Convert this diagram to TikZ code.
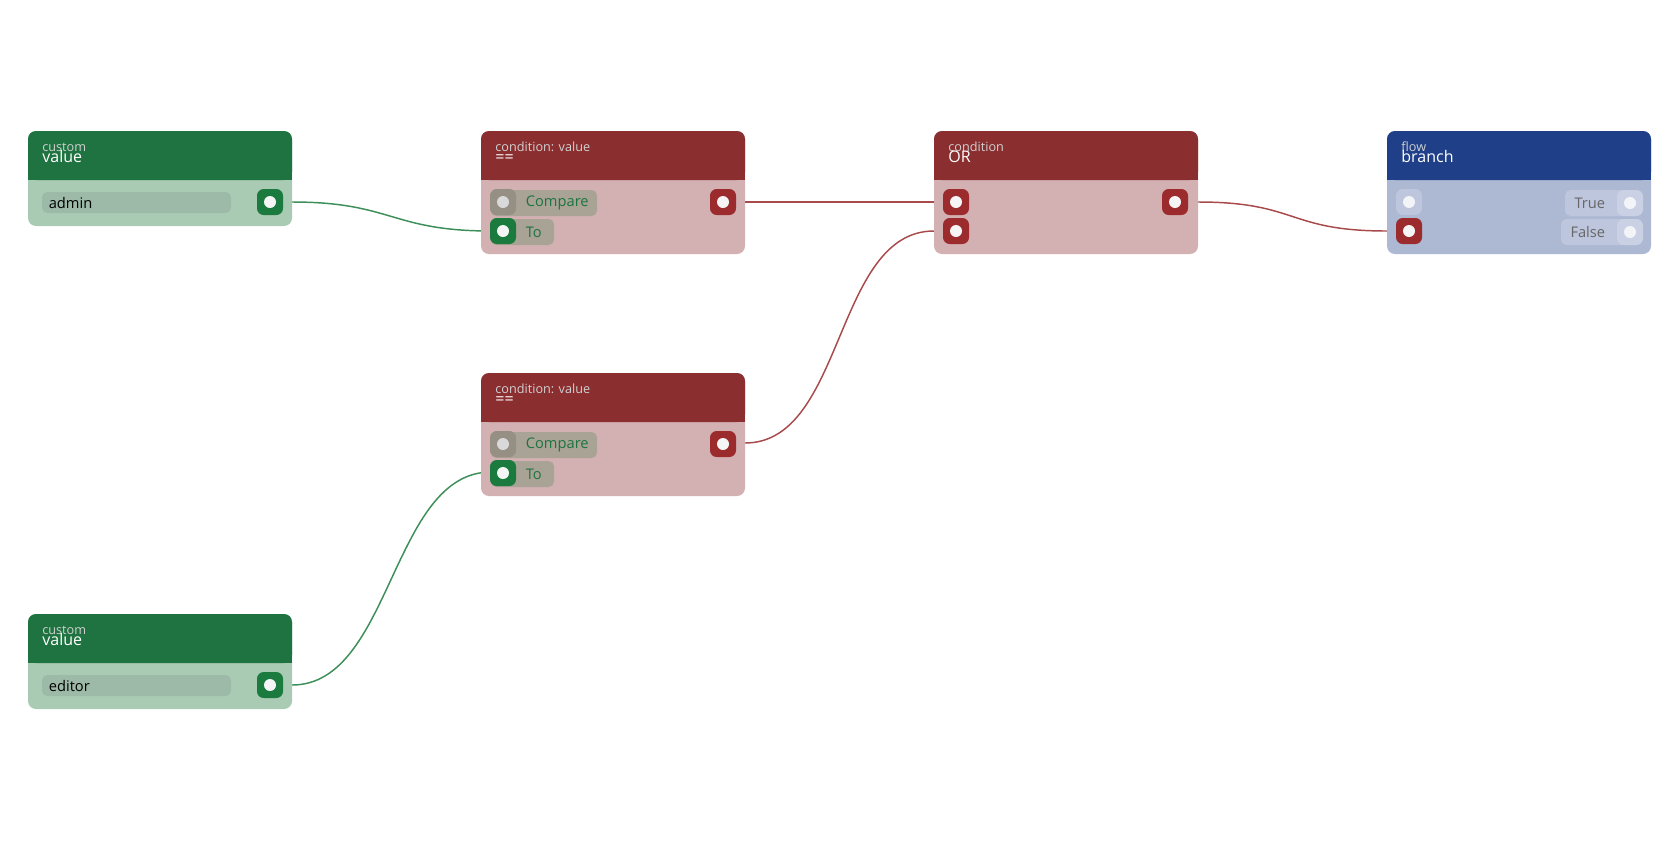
\documentclass[tikz,border=0pt]{standalone}
\usepackage{fontspec}
\setmainfont{Open Sans}
\usetikzlibrary{positioning}
\definecolor{greenhead}{HTML}{1E7340}
\definecolor{greenbody}{HTML}{A9CBB4}
\definecolor{greenport}{HTML}{1B7A3E}
\definecolor{greenfield}{HTML}{9DB9A7}
\definecolor{greenwire}{HTML}{3C8F58}
\definecolor{redhead}{HTML}{8A2E2F}
\definecolor{redbody}{HTML}{D3B1B3}
\definecolor{redport}{HTML}{9B2B2C}
\definecolor{redpill}{HTML}{A9A396}
\definecolor{redwire}{HTML}{A84A4B}
\definecolor{bluehead}{HTML}{1F3F88}
\definecolor{bluebody}{HTML}{ADB8D3}
\definecolor{bluepill}{HTML}{BDC6DD}
\newcommand{\card}[7]{% name, x, y, height, colour, kind, title
  \fill[#5body,rounded corners=6] (#2,#3) rectangle ++(264,#4);
  \fill[#5head,rounded corners=6] (#2,#3) rectangle ++(264,49);
  \fill[#5head] (#2,#3+30) rectangle ++(264,19);
  \node[kind] (#1kind) at (#2+14,#3+20) {#6};
  \node[title] (#1title) at (#2+14,#3+31) {#7};
}
\begin{document}
\begin{tikzpicture}[x=0.75pt,y=-0.75pt,semithick]
  \tikzstyle{kind}=[anchor=base west,inner sep=0,text=white!82!black,font=\fontsize{9.5}{10}\selectfont]
  \tikzstyle{title}=[anchor=base west,inner sep=0,text=white,font=\fontsize{12}{12}\selectfont]
  \tikzstyle{port}=[draw=none,rounded corners=5,minimum size=19.5pt,inner sep=0]
  \tikzstyle{dot}=[circle,fill=white!92!gray,minimum size=9pt,inner sep=0]
  \tikzstyle{lbl}=[font=\fontsize{11}{12}\selectfont]
  \tikzstyle{wire}=[line width=1.1pt]
  \useasboundingbox (0,0) rectangle (1680,840);
  % wires
  \coordinate (AO) at (292,202);
  \coordinate (EO) at (292,685);
  \coordinate (C1T) at (491,231);
  \coordinate (C1O) at (745,202);
  \coordinate (C2T) at (491,472);
  \coordinate (C2O) at (745,443);
  \coordinate (OA) at (934,202);
  \coordinate (OB) at (934,231);
  \coordinate (OO) at (1198,202);
  \coordinate (BF) at (1387,231);
  \draw[wire,greenwire] (AO) .. controls +(100,0) and +(-100,0) .. (C1T);
  \draw[wire,greenwire] (EO) .. controls +(100,0) and +(-100,0) .. (C2T);
  \draw[wire,redwire] (C1O) -- (OA);
  \draw[wire,redwire] (C2O) .. controls +(100,0) and +(-100,0) .. (OB);
  \draw[wire,redwire] (OO) .. controls +(100,0) and +(-100,0) .. (BF);
  % value nodes
  \card{A}{28}{131}{95}{green}{custom}{value}
  \fill[greenfield,rounded corners=4] (42,192) rectangle (231,213);
  \node[lbl,anchor=west] (admin) at (44,202.5) {admin};
  \node[port,fill=greenport] (Aout) at (270,202) {}; \node[dot] at (Aout) {};
  \card{E}{28}{614}{95}{green}{custom}{value}
  \fill[greenfield,rounded corners=4] (42,675) rectangle (231,696);
  \node[lbl,anchor=west] (editor) at (44,685.5) {editor};
  \node[port,fill=greenport] (Eout) at (270,685) {}; \node[dot] at (Eout) {};
  % condition nodes
  \foreach \y/\n in {131/C1,373/C2}{
    \card{\n}{481}{\y}{123}{red}{condition: value}{==}
    \fill[redpill,rounded corners=4] (491,\y+59) rectangle (597,\y+85);
    \fill[redpill,rounded corners=4] (491,\y+88) rectangle (554,\y+114);
    \node[port,fill=black!12!redpill] (\n cmp) at (503,\y+71) {};
    \node[dot,fill=white!70!gray] at (\n cmp) {};
    \node[lbl,text=greenhead,anchor=west] at (521,\y+72) {Compare};
    \node[port,fill=greenport] (\n to) at (503,\y+100) {}; \node[dot] at (\n to) {};
    \node[lbl,text=greenhead,anchor=west] at (521,\y+101) {To};
    \node[port,fill=redport] (\n out) at (723,\y+71) {}; \node[dot] at (\n out) {};
  }
  % or node
  \card{O}{934}{131}{123}{red}{condition}{OR}
  \node[port,fill=redport] (Oa) at (956,202) {}; \node[dot] at (Oa) {};
  \node[port,fill=redport] (Ob) at (956,231) {}; \node[dot] at (Ob) {};
  \node[port,fill=redport] (Oout) at (1175,202) {}; \node[dot] at (Oout) {};
  % branch node
  \card{B}{1387}{131}{123}{blue}{flow}{branch}
  \node[port,fill=bluepill] (Bin) at (1409,202) {}; \node[dot,fill=white!85!bluebody] at (Bin) {};
  \node[port,fill=redport] (Bcond) at (1409,231) {}; \node[dot] at (Bcond) {};
  \fill[bluepill,rounded corners=4] (1565,190) rectangle (1642,216);
  \fill[bluepill,rounded corners=4] (1561,219) rectangle (1642,245);
  \node[port,fill=white!20!bluepill] (Btrue) at (1630,203) {}; \node[dot,fill=white!85!bluebody] at (Btrue) {};
  \node[port,fill=white!20!bluepill] (Bfalse) at (1630,232) {}; \node[dot,fill=white!85!bluebody] at (Bfalse) {};
  \node[lbl,text=black!60,anchor=east] at (1610,203) {True};
  \node[lbl,text=black!60,anchor=east] at (1610,232) {False};
\end{tikzpicture}
\end{document}
